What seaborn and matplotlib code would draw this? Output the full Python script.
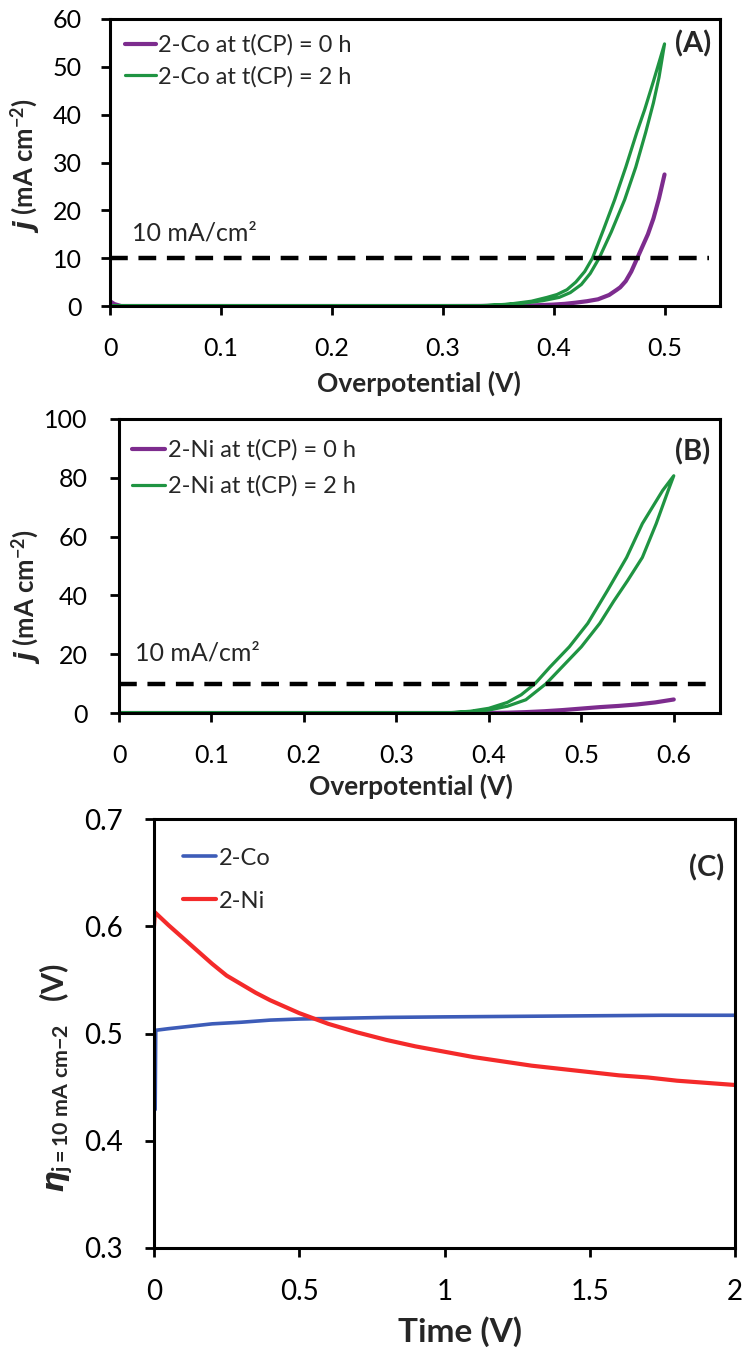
import matplotlib
matplotlib.use("Agg")
import matplotlib.pyplot as plt
import seaborn as sns
import numpy as np
import pandas as pd

# ---------------- data ----------------
# Panel A : 2-Co polarisation curves
co0_v = [0.000, 0.004, 0.010, 0.30, 0.34, 0.36, 0.38, 0.39, 0.40, 0.41, 0.42, 0.43, 0.44,
         0.45, 0.457, 0.46, 0.465, 0.47, 0.475, 0.48, 0.485, 0.49, 0.495, 0.50]
co0_j = [1.0, 0.4, 0.0, 0.0, 0.02, 0.05, 0.12, 0.2, 0.3, 0.45, 0.7, 1.0, 1.4,
         2.3, 3.4, 3.9, 5.2, 7.2, 9.8, 12.4, 15.0, 18.3, 22.5, 27.5]

co2_v = [0.0, 0.30, 0.33, 0.35, 0.37, 0.39, 0.405, 0.415, 0.425, 0.433, 0.441, 0.452, 0.464,
         0.474, 0.483, 0.490, 0.495, 0.50,
         0.49, 0.482, 0.475, 0.465, 0.455, 0.445, 0.435, 0.428, 0.42, 0.412, 0.403, 0.394,
         0.38, 0.36, 0.34, 0.32, 0.0]
co2_j = [0.0, 0.0, 0.05, 0.2, 0.5, 1.1, 1.8, 2.8, 4.5, 6.8, 10.0, 15.5, 22.2,
         29.0, 36.3, 42.5, 47.8, 54.8,
         47.0, 41.0, 36.3, 29.0, 22.2, 16.0, 10.0, 7.2, 5.0, 3.4, 2.4, 1.8,
         1.0, 0.4, 0.1, 0.0, 0.0]

# Panel B : 2-Ni polarisation curves
ni0_v = [0.0, 0.40, 0.42, 0.44, 0.46, 0.48, 0.50, 0.52, 0.54, 0.56, 0.58, 0.60]
ni0_j = [0.0, 0.0, 0.1, 0.3, 0.6, 1.0, 1.5, 2.0, 2.4, 2.9, 3.6, 4.6]

ni2_v = [0.0, 0.33, 0.36, 0.38, 0.40, 0.42, 0.44, 0.462, 0.479, 0.50, 0.52, 0.535, 0.55,
         0.566, 0.581, 0.594, 0.60,
         0.588, 0.566, 0.549, 0.528, 0.507, 0.487, 0.466, 0.45, 0.435, 0.42, 0.40, 0.38,
         0.36, 0.34, 0.0]
ni2_j = [0.0, 0.0, 0.1, 0.4, 1.0, 2.3, 4.5, 10.0, 15.6, 22.5, 30.5, 38.0, 45.0,
         52.9, 64.4, 75.7, 80.7,
         75.7, 64.4, 52.9, 41.5, 30.5, 22.5, 15.6, 10.0, 6.2, 3.6, 1.6, 0.6,
         0.15, 0.0, 0.0]

# reference current density line
ref_j = 10
ref_a_v = [0.0, 0.54]
ref_b_v = [0.0, 0.64]

# Panel C : chronopotentiometry
co_t = [0.004, 0.006, 0.05, 0.1, 0.15, 0.2, 0.3, 0.4, 0.5, 0.6, 0.8, 1.0, 1.25, 1.5, 1.75, 2.0]
co_eta = [0.429, 0.503, 0.5045, 0.506, 0.5075, 0.509, 0.5105, 0.5125, 0.5135, 0.514, 0.515,
          0.5155, 0.516, 0.5165, 0.517, 0.517]
ni_t = [0.0, 0.003, 0.05, 0.1, 0.15, 0.2, 0.25, 0.3, 0.35, 0.4, 0.45, 0.5, 0.55, 0.6, 0.7,
        0.8, 0.9, 1.0, 1.1, 1.2, 1.3, 1.4, 1.5, 1.6, 1.7, 1.8, 1.9, 2.0]
ni_eta = [0.600, 0.613, 0.601, 0.589, 0.577, 0.565, 0.554, 0.546, 0.538, 0.531, 0.525, 0.519,
          0.514, 0.509, 0.501, 0.494, 0.488, 0.483, 0.478, 0.474, 0.470, 0.467, 0.464, 0.461,
          0.459, 0.456, 0.454, 0.452]

a_xticks = [0, 0.1, 0.2, 0.3, 0.4, 0.5]
a_xlabels = ["0", "0.1", "0.2", "0.3", "0.4", "0.5"]
a_yticks = [0, 10, 20, 30, 40, 50, 60]
b_xticks = [0, 0.1, 0.2, 0.3, 0.4, 0.5, 0.6]
b_xlabels = ["0", "0.1", "0.2", "0.3", "0.4", "0.5", "0.6"]
b_yticks = [0, 20, 40, 60, 80, 100]
c_xticks = [0, 0.5, 1, 1.5, 2]
c_xlabels = ["0", "0.5", "1", "1.5", "2"]
c_yticks = [0.3, 0.4, 0.5, 0.6, 0.7]
c_ylabels = ["0.3", "0.4", "0.5", "0.6", "0.7"]

# ---------------- style ----------------
sns.set_theme(style="ticks")
plt.rcParams["font.family"] = ["Lato", "DejaVu Sans"]
plt.rcParams["mathtext.fontset"] = "custom"
plt.rcParams["mathtext.rm"] = "Lato"
plt.rcParams["mathtext.it"] = "Lato:italic"
plt.rcParams["mathtext.bf"] = "Lato:bold"
plt.rcParams["mathtext.bfit"] = "DejaVu Sans:bold:italic"
plt.rcParams["mathtext.fallback"] = "stixsans"

PURPLE = "#7D2C8E"
GREEN = "#1F9442"
BLUE = "#3D5CB8"
RED = "#F42A2A"

fig = plt.figure(figsize=(7.45, 13.49), dpi=100)
W, H = 745, 1349


def add_ax(l, t, r, b):
    return fig.add_axes([l / W, 1 - b / H, (r - l) / W, (b - t) / H])


def style_ax(ax, tick_fs, ypad):
    for s in ax.spines.values():
        s.set_visible(True)
        s.set_color("black")
        s.set_linewidth(2.2)
    ax.tick_params(axis="both", which="major", direction="out", length=6.5, width=2,
                   color="black", labelcolor="black", labelsize=tick_fs,
                   left=True, bottom=True, right=False, top=False)
    ax.tick_params(axis="y", pad=ypad)
    ax.tick_params(axis="x", pad=16)


# ---------------- Panel A ----------------
axA = add_ax(110, 19, 720, 306)
sns.lineplot(x=co0_v, y=co0_j, ax=axA, color=PURPLE, lw=3.0, sort=False, estimator=None)
sns.lineplot(x=co2_v, y=co2_j, ax=axA, color=GREEN, lw=2.3, sort=False, estimator=None)
sns.lineplot(x=ref_a_v, y=[ref_j] * len(ref_a_v), ax=axA, color="black", lw=3.2,
             sort=False, estimator=None)
axA.get_lines()[-1].set_dashes((4.0, 2.4))
axA.set_xlim(0, 0.55)
axA.set_ylim(0, 60)
axA.set_xticks(a_xticks, a_xlabels)
axA.set_yticks(a_yticks)
style_ax(axA, 18, 14)
la = axA.get_lines()
axA.legend([la[0], la[1]], ["2-Co at t(CP) = 0 h", "2-Co at t(CP) = 2 h"],
           loc="upper left", bbox_to_anchor=(0.025, 0.946), frameon=False, fontsize=17,
           handlelength=1.3, handletextpad=0.1, borderpad=0, borderaxespad=0,
           labelspacing=0.42)
axA.text(0.036, 0.254, "10 mA/cm²", transform=axA.transAxes, fontsize=18, va="center")
axA.text(0.956, 0.913, "(A)", transform=axA.transAxes, fontsize=21, fontweight="bold",
         ha="center", va="center")
axA.set_xlabel("Overpotential (V)", fontsize=19, fontweight="bold")
axA.xaxis.set_label_coords(0.506, -0.225)
axA.set_ylabel(r"$\mathbfit{j}$ (mA cm$^{\mathbf{-2}}$)", fontsize=18.5, fontweight="bold")
axA.yaxis.set_label_coords(-0.111, 0.49)

# ---------------- Panel B ----------------
axB = add_ax(119, 419, 720, 713)
sns.lineplot(x=ni0_v, y=ni0_j, ax=axB, color=PURPLE, lw=3.0, sort=False, estimator=None)
sns.lineplot(x=ni2_v, y=ni2_j, ax=axB, color=GREEN, lw=2.3, sort=False, estimator=None)
sns.lineplot(x=ref_b_v, y=[ref_j] * len(ref_b_v), ax=axB, color="black", lw=3.2,
             sort=False, estimator=None)
axB.get_lines()[-1].set_dashes((4.0, 2.4))
axB.set_xlim(0, 0.65)
axB.set_ylim(0, 100)
axB.set_xticks(b_xticks, b_xlabels)
axB.set_yticks(b_yticks)
style_ax(axB, 18, 16)
lb = axB.get_lines()
axB.legend([lb[0], lb[1]], ["2-Ni at t(CP) = 0 h", "2-Ni at t(CP) = 2 h"],
           loc="upper left", bbox_to_anchor=(0.022, 0.9305), frameon=False, fontsize=17,
           handlelength=1.4, handletextpad=0.1, borderpad=0, borderaxespad=0,
           labelspacing=0.61)
axB.text(0.027, 0.204, "10 mA/cm²", transform=axB.transAxes, fontsize=18, va="center")
axB.text(0.954, 0.889, "(B)", transform=axB.transAxes, fontsize=21, fontweight="bold",
         ha="center", va="center")
axB.set_xlabel("Overpotential (V)", fontsize=19, fontweight="bold")
axB.xaxis.set_label_coords(0.485, -0.205)
axB.set_ylabel(r"$\mathbfit{j}$ (mA cm$^{\mathbf{-2}}$)", fontsize=18.5, fontweight="bold")
axB.yaxis.set_label_coords(-0.126, 0.395)

# ---------------- Panel C ----------------
axC = add_ax(154, 819, 735, 1248)
sns.lineplot(x=co_t, y=co_eta, ax=axC, color=BLUE, lw=2.6, sort=False, estimator=None)
sns.lineplot(x=ni_t, y=ni_eta, ax=axC, color=RED, lw=3.0, sort=False, estimator=None)
axC.set_xlim(0, 2)
axC.set_ylim(0.3, 0.7)
axC.set_xticks(c_xticks, c_xlabels)
axC.set_yticks(c_yticks, c_ylabels)
style_ax(axC, 20, 16)
lc = axC.get_lines()
axC.legend([lc[0], lc[1]], ["2-Co", "2-Ni"],
           loc="upper left", bbox_to_anchor=(0.05, 0.933), frameon=False, fontsize=17,
           handlelength=1.4, handletextpad=0.1, borderpad=0, borderaxespad=0,
           labelspacing=0.93)
axC.text(0.952, 0.887, "(C)", transform=axC.transAxes, fontsize=21, fontweight="bold",
         ha="center", va="center")
axC.set_xlabel("Time (V)", fontsize=24, fontweight="bold")
axC.xaxis.set_label_coords(0.5275, -0.16)
axC.set_ylabel(r"$\mathbfit{\eta}_{\mathbf{j=10\ mA\ cm{-}2}}$   (V)", fontsize=22,
               fontweight="bold")
axC.yaxis.set_label_coords(-0.135, 0.397)

fig.savefig("out.png", dpi=100)
